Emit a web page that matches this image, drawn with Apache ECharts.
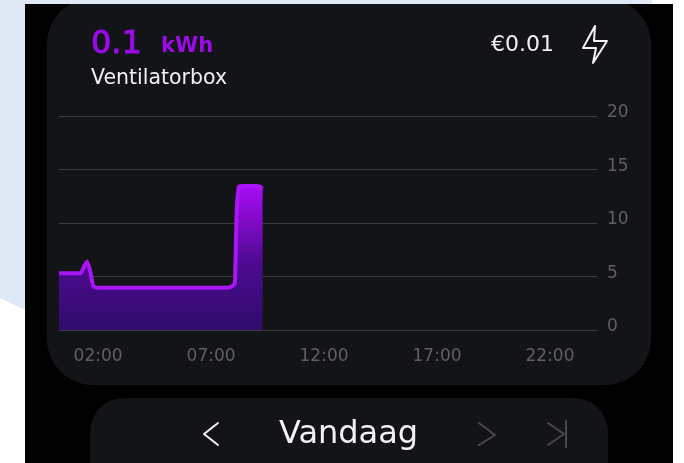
<!DOCTYPE html>
<html>
<head>
<meta charset="utf-8">
<style>
html, body { margin: 0; padding: 0; background: #fff; }
#main { width: 684px; height: 463px; }
</style>
<script src="https://cdn.jsdelivr.net/npm/echarts@6/dist/echarts.min.js"></script>
</head>
<body>
<div id="main"></div>
<script>
// uur van de dag / verbruik
var hours = [0.27, 0.7, 1.1, 1.23, 1.37, 1.51, 1.65, 1.79, 1.95, 2.2, 4, 6, 7.5, 7.8, 8.0, 8.06, 8.13, 8.23, 8.4, 8.7, 9.02, 9.15, 9.28];
var usage = [5.3, 5.3, 5.3, 5.3, 5.9, 6.4, 5.5, 4.1, 3.95, 3.95, 3.95, 3.95, 3.95, 3.98, 4.2, 4.5, 10.9, 13.4, 13.45, 13.45, 13.45, 13.4, 13.2];
var xTicks = [2, 7, 12, 17, 22];
var yTicks = [0, 5, 10, 15, 20];

var chartData = hours.map(function(h, i) {
	return [h, usage[i]];
});

var myChart = echarts.init(document.getElementById('main'));
var font = '"DejaVu Sans", sans-serif';

function stroke(points, color) {
	return {
		type: 'polyline',
		z: -5,
		shape: { points: points },
		style: { stroke: color, fill: null, lineWidth: 2, lineCap: 'round', lineJoin: 'round' }
	};
}

function label(text, x, y, size, color, weight, outline) {
	return {
		type: 'text',
		x: x,
		y: y,
		z: 5,
		style: {
			text: text,
			fill: color,
			stroke: outline ? color : null,
			lineWidth: outline || 0,
			font: (weight || 400) + ' ' + size + 'px ' + font,
			textVerticalAlign: 'middle'
		}
	};
}

var option = {
	backgroundColor: '#ffffff',
	animation: false,
	grid: { left: 59, right: 87, top: 116, bottom: 133 },
	xAxis: {
		type: 'value',
		min: 0.27,
		max: 24.08,
		axisLine: { show: false },
		axisTick: { show: false },
		splitLine: { show: false },
		axisLabel: {
			customValues: xTicks,
			margin: 18,
			color: '#5f6063',
			fontFamily: font,
			fontSize: 17,
			formatter: function(v) {
				return (v < 10 ? '0' : '') + v + ':00';
			}
		}
	},
	yAxis: {
		type: 'value',
		position: 'right',
		min: yTicks[0],
		max: yTicks[yTicks.length - 1],
		interval: 5,
		axisLine: { show: false },
		axisTick: { show: false },
		splitLine: { lineStyle: { color: '#3b3c3f', width: 1 } },
		axisLabel: { margin: 10, color: '#5f6063', fontFamily: font, fontSize: 17, align: 'left', verticalAlign: 'bottom', lineHeight: 10, padding: [0, 0, -2, 0] }
	},
	graphic: [
		// achtergrond
		{ type: 'polygon', z: -20, shape: { points: [[0, 0], [25, 0], [25, 310], [0, 298]] }, style: { fill: '#dfeaf6' } },
		{ type: 'rect', z: -19, shape: { x: 25, y: 4, width: 648, height: 459 }, style: { fill: '#000000' } },
		{ type: 'rect', z: -18, shape: { x: 47, y: -2, width: 604, height: 387, r: 46 }, style: { fill: '#131418' } },
		{ type: 'rect', z: -18, shape: { x: 90, y: 398, width: 518, height: 120, r: 34 }, style: { fill: '#131418' } },
		{ type: 'rect', z: -17, shape: { x: 0, y: 0, width: 652, height: 4 }, style: { fill: '#dfeaf6' } },
		{ type: 'rect', z: -17, shape: { x: 652, y: 0, width: 32, height: 4 }, style: { fill: '#ffffff' } },
		// kop
		label('0.1', 91, 45, 32, '#9a0be6', 400, 1),
		label('kWh', 161, 47, 21, '#9a0be6', 600),
		label('Ventilatorbox', 91, 79, 20.5, '#f0f0f0'),
		label('€0.01', 491, 45, 22, '#f0f0f0'),
		stroke([[595, 26], [583, 48], [596, 48], [593, 63], [607, 41], [594, 41], [595, 26]], '#f4f4f4'),
		// navigatie
		label('Vandaag', 279, 435, 32, '#f2f2f2'),
		stroke([[218, 423], [204, 434], [218, 445]], '#f4f4f4'),
		stroke([[479, 423], [495, 435], [479, 445]], '#48494c'),
		stroke([[548, 423], [564, 434], [548, 445]], '#48494c'),
		stroke([[566, 421], [566, 447]], '#48494c')
	],
	series: [{
		type: 'line',
		data: chartData,
		showSymbol: false,
		smooth: 0.15,
		lineStyle: { color: '#a915f5', width: 4 },
		areaStyle: {
			opacity: 1,
			color: new echarts.graphic.LinearGradient(0, 0, 0, 1, [
				{ offset: 0, color: '#a80cf5' },
				{ offset: 0.55, color: '#4c0a8e' },
				{ offset: 1, color: '#2f0c6c' }
			])
		}
	}]
};
myChart.setOption(option);
</script>
</body>
</html>
